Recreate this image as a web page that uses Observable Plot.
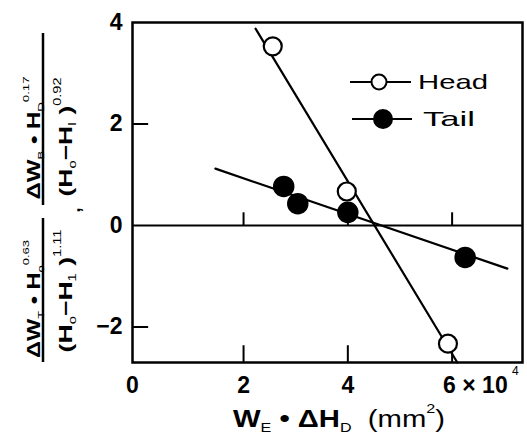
<!DOCTYPE html>
<html><head><meta charset="utf-8">
<script src="https://cdn.jsdelivr.net/npm/d3@7"></script>
<script src="https://cdn.jsdelivr.net/npm/@observablehq/plot@0.6"></script>
<style>body{margin:0;background:#fff}</style>
</head><body><div id="chart"></div>
<script>
// ---- data ----
const headX = [2.56, 3.98, 5.92];
const headY = [3.53, 0.67, -2.33];
const tailX = [2.77, 3.04, 4.00, 6.25];
const tailY = [0.77, 0.43, 0.26, -0.63];
const headLineX = [2.23, 6.10];
const headLineY = [3.88, -2.70];
const tailLineX = [1.46, 7.06];
const tailLineY = [1.12, -0.85];
const xTicks = [2, 4, 6];
const xTickLabels = ["0", "2", "4", "6 × 10"];
const xExpLabel = "4";
const yTicks = [4, 2, 0, -2];
const yTickLabels = ["4", "2", "0", "−2"];
const seriesNames = ["Head", "Tail"];
const xDomain = [-0.13, 7.35];
const yDomain = [-2.7, 4];

const FONT = "'Liberation Sans', Arial, Helvetica, sans-serif";
const head = headX.map((x, i) => ({x, y: headY[i]}));
const tail = tailX.map((x, i) => ({x, y: tailY[i]}));
const headLine = headLineX.map((x, i) => ({x, y: headLineY[i]}));
const tailLine = tailLineX.map((x, i) => ({x, y: tailLineY[i]}));
const xLabelPos = [xDomain[0], ...xTicks];

const chart = Plot.plot({
  width: 527, height: 439,
  marginLeft: 132, marginRight: 5, marginTop: 22, marginBottom: 77,
  style: {background: "white", fontFamily: FONT, color: "black"},
  x: {domain: xDomain, axis: null},
  y: {domain: yDomain, axis: null},
  marks: [
    Plot.frame({stroke: "black", strokeWidth: 2.5}),
    Plot.ruleY([0], {stroke: "black", strokeWidth: 2.2}),
    Plot.ruleX(xTicks, {x: d => d, y1: yDomain[0], y2: yDomain[0] + 0.33, stroke: "black", strokeWidth: 2}),
    Plot.ruleX(xTicks, {x: d => d, y1: 0, y2: 0.25, stroke: "black", strokeWidth: 2}),
    Plot.ruleY(yTicks.filter(v => v !== 0 && v !== yDomain[1]), {y: d => d, x1: xDomain[0], x2: xDomain[0] + 0.31, stroke: "black", strokeWidth: 2}),
    Plot.line(headLine, {x: "x", y: "y", stroke: "black", strokeWidth: 2.2}),
    Plot.line(tailLine, {x: "x", y: "y", stroke: "black", strokeWidth: 2.2}),
    Plot.dot(head, {x: "x", y: "y", r: 9, fill: "white", stroke: "black", strokeWidth: 2.2}),
    Plot.dot(tail, {x: "x", y: "y", r: 10, fill: "black", stroke: "black"}),
    Plot.text(yTicks, {x: xDomain[0], y: d => d, text: (d, i) => yTickLabels[i], textAnchor: "end", dx: -10, fontSize: 23, fontWeight: "bold", fill: "black"}),
    Plot.text(xLabelPos.slice(0, 3), {x: d => d, y: yDomain[0], text: (d, i) => xTickLabels[i], dy: 23, fontSize: 23, fontWeight: "bold", fill: "black"}),
    Plot.text([xTicks[2]], {x: d => d, y: yDomain[0], text: () => xTickLabels[3], textAnchor: "start", dx: -9, dy: 23, fontSize: 23, fontWeight: "bold", fill: "black"}),
    Plot.text([xTicks[2]], {x: d => d, y: yDomain[0], text: () => xExpLabel, textAnchor: "start", dx: 60, dy: 9, fontSize: 12, fill: "black"})
  ]
});
document.getElementById("chart").append(chart);

const svg = d3.select(chart);

function rich({x, y, rotate = 0, size, weight = "bold", parts, anchor = "middle", length}) {
  const t = svg.append("text")
    .attr("transform", `translate(${x},${y}) rotate(${rotate})`)
    .attr("text-anchor", anchor).attr("font-size", size)
    .attr("font-weight", weight).attr("font-family", FONT).attr("fill", "black");
  let shift = 0;
  for (const p of parts) {
    const [s, kind, w] = typeof p === "string" ? [p, "n"] : p;
    const target = kind === "sub" ? 0.22 * size : kind === "sup" ? -0.6 * size : 0;
    const ts = t.append("tspan").text(s).attr("dy", target - shift);
    if (kind !== "n") ts.attr("font-size", size * 0.55).attr("font-weight", "normal");
    if (w) ts.attr("font-weight", w);
    shift = target;
  }
  if (length) t.attr("textLength", length).attr("lengthAdjust", "spacingAndGlyphs");
  return t;
}

// y-axis label: two fractions, rotated
svg.append("line").attr("x1", 43).attr("x2", 43).attr("y1", 218).attr("y2", 362).attr("stroke", "black").attr("stroke-width", 2.5);
svg.append("line").attr("x1", 43).attr("x2", 43).attr("y1", 33).attr("y2", 205).attr("stroke", "black").attr("stroke-width", 2.5);
rich({x: 40, y: 299, rotate: -90, size: 18, length: 118,
  parts: ["ΔW", ["T", "sub"], " • H", ["o", "sub"], ["0.63", "sup"]]});
rich({x: 72, y: 291, rotate: -90, size: 19, length: 123,
  parts: ["(H", ["o", "sub"], "−H", ["1", "sub"], " )", ["1.11", "sup"]]});
rich({x: 80, y: 210, rotate: -90, size: 18, parts: [","]});
rich({x: 40, y: 138, rotate: -90, size: 18, length: 123,
  parts: ["ΔW", ["B", "sub"], " • H", ["D", "sub"], ["0.17", "sup"]]});
rich({x: 72, y: 137, rotate: -90, size: 19, length: 119,
  parts: ["(H", ["o", "sub"], "−H", ["I", "sub"], " )", ["0.92", "sup"]]});

// x-axis label
rich({x: 233, y: 427, size: 23, anchor: "start", length: 212,
  parts: ["W", ["E", "sub"], " • ΔH", ["D", "sub"], ["  (mm", "n", "normal"], ["2", "sup"], [")", "n", "normal"]]});

// legend
const leg = [
  {name: seriesNames[0], y: 82, cx: 379, fill: "white", r: 7.5, x1: 350, x2: 411, tx: 418, len: 70},
  {name: seriesNames[1], y: 119, cx: 383, fill: "black", r: 9, x1: 352, x2: 412, tx: 423, len: 52}
];
for (const l of leg) {
  svg.append("line").attr("x1", l.x1).attr("x2", l.x2).attr("y1", l.y).attr("y2", l.y).attr("stroke", "black").attr("stroke-width", 2.2);
  svg.append("circle").attr("cx", l.cx).attr("cy", l.y).attr("r", l.r).attr("fill", l.fill).attr("stroke", "black").attr("stroke-width", 2);
  svg.append("text").attr("x", l.tx).attr("y", l.y + 7).attr("font-size", 21).attr("font-family", FONT)
    .attr("text-anchor", "start")
    .attr("textLength", l.len).attr("lengthAdjust", "spacingAndGlyphs").attr("fill", "black").text(l.name);
}
</script>
</body></html>
